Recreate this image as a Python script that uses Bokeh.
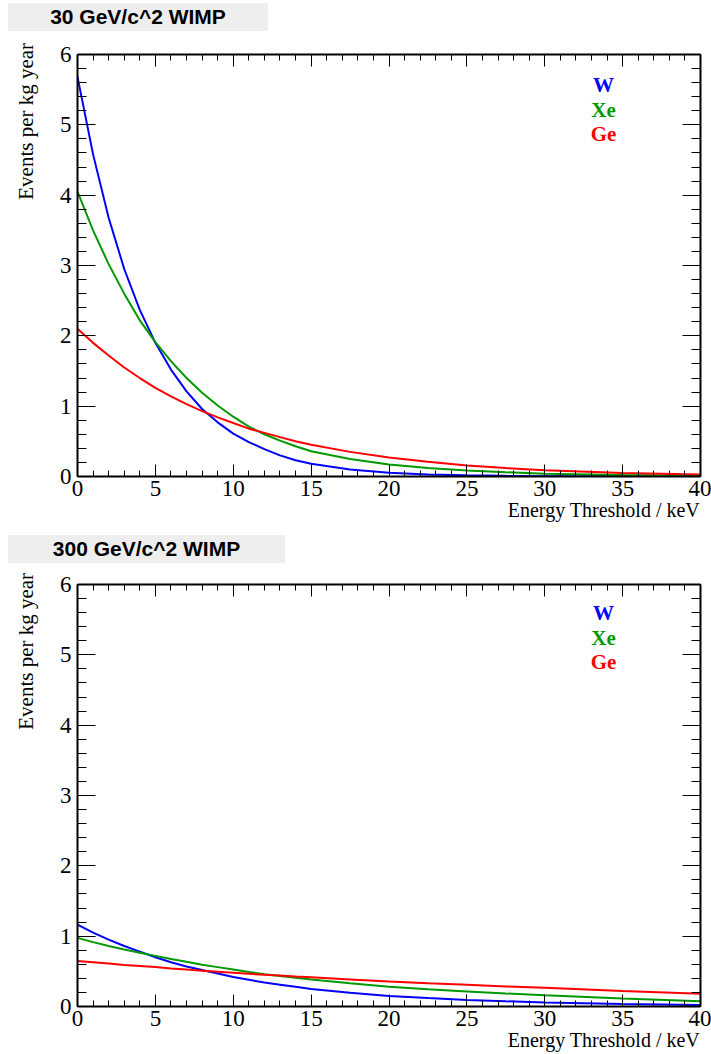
import json
from bokeh.plotting import figure
from bokeh.models import (Range1d, FixedTicker, LinearAxis, Label, Div,
                          CustomJSTickFormatter, ColumnDataSource)
from bokeh.layouts import column
from bokeh.embed import file_html
from bokeh.resources import INLINE

# ---------------- data ----------------
energy = [0, 1, 2, 3, 4, 5, 6, 7, 8, 9, 10, 11, 12, 13, 14, 15,
          17.5, 20, 22.5, 25, 27.5, 30, 35, 40]

w_30 = [5.68, 4.58, 3.68, 2.95, 2.37, 1.90, 1.52, 1.21, 0.96, 0.77, 0.61, 0.49,
        0.39, 0.30, 0.23, 0.18, 0.10, 0.055, 0.03, 0.016, 0.009, 0.005, 0.002, 0.001]
xe_30 = [4.05, 3.50, 3.02, 2.60, 2.22, 1.91, 1.64, 1.40, 1.19, 1.01, 0.85, 0.71,
         0.60, 0.51, 0.43, 0.36, 0.25, 0.17, 0.12, 0.085, 0.06, 0.04, 0.02, 0.01]
ge_30 = [2.10, 1.90, 1.72, 1.55, 1.40, 1.26, 1.14, 1.03, 0.93, 0.84, 0.76, 0.68,
         0.62, 0.56, 0.50, 0.45, 0.35, 0.27, 0.21, 0.155, 0.12, 0.09, 0.05, 0.03]

w_300 = [1.165, 1.05, 0.95, 0.86, 0.78, 0.70, 0.63, 0.57, 0.52, 0.47, 0.42, 0.38,
         0.34, 0.31, 0.28, 0.25, 0.195, 0.15, 0.12, 0.094, 0.074, 0.058, 0.035, 0.022]
xe_300 = [0.976, 0.915, 0.86, 0.81, 0.765, 0.72, 0.675, 0.635, 0.595, 0.56, 0.525, 0.49,
          0.46, 0.435, 0.41, 0.385, 0.33, 0.28, 0.245, 0.215, 0.185, 0.16, 0.115, 0.075]
ge_300 = [0.646, 0.63, 0.61, 0.59, 0.575, 0.56, 0.54, 0.525, 0.51, 0.495, 0.48, 0.465,
          0.45, 0.44, 0.425, 0.415, 0.385, 0.355, 0.33, 0.31, 0.285, 0.265, 0.22, 0.18]

series_names = ["W", "Xe", "Ge"]
series_colors = ["#0000ff", "#009900", "#ff0000"]

x_major = [0, 5, 10, 15, 20, 25, 30, 35, 40]
x_minor = list(range(0, 41))
y_major = [0, 1, 2, 3, 4, 5, 6]
y_minor = [i / 5 for i in range(0, 31)]

panel_titles = ["30 GeV/c^2 WIMP", "300 GeV/c^2 WIMP"]
x_title = "Energy Threshold / keV"
y_title = "Events per kg year"

SERIF = "Liberation Serif"

# where the (ROOT-style, end-aligned) axis titles are centred, in axis units
X_TITLE_CENTER = 33.8
Y_TITLE_CENTER = 5.05


def title_div(text, box_w, box_h, pad_top):
    return Div(text=text, width=box_w, height=box_h, margin=(pad_top, 0, 0, 8),
               styles={"background-color": "#eeeeee",
                       "font-family": "'Liberation Sans', Arial, sans-serif",
                       "font-weight": "bold", "font-size": "21px",
                       "color": "black", "text-align": "center",
                       "line-height": "%dpx" % box_h,
                       "overflow": "hidden"})


def style_axis(ax, major_in, minor_in):
    ax.axis_line_color = "black"
    ax.axis_line_width = 2
    ax.major_tick_in = major_in
    ax.major_tick_out = 0
    ax.minor_tick_in = minor_in
    ax.minor_tick_out = 0
    ax.major_tick_line_color = "black"
    ax.minor_tick_line_color = "black"
    ax.major_tick_line_width = 1
    ax.minor_tick_line_width = 1


def title_axis(center, text, size, standoff, orientation):
    ax = LinearAxis(ticker=FixedTicker(ticks=[center], minor_ticks=[]),
                    formatter=CustomJSTickFormatter(code="return %s" % json.dumps(text)),
                    axis_line_color=None, major_tick_line_color=None,
                    minor_tick_line_color=None, major_tick_in=0, major_tick_out=0,
                    minor_tick_in=0, minor_tick_out=0,
                    major_label_standoff=standoff,
                    major_label_text_font=SERIF, major_label_text_font_size=size,
                    major_label_text_color="black",
                    major_label_orientation=orientation)
    return ax


def panel(h, top, bottom, ys, fh):
    p = figure(width=711, height=h, x_range=Range1d(0, 40), y_range=Range1d(0, 6),
               toolbar_location=None, output_backend="svg",
               min_border_left=77, min_border_right=11,
               min_border_top=top, min_border_bottom=bottom)
    p.xgrid.visible = False
    p.ygrid.visible = False
    p.outline_line_color = None
    p.background_fill_color = "white"
    p.border_fill_color = "white"

    p.xaxis.ticker = FixedTicker(ticks=x_major, minor_ticks=x_minor)
    p.yaxis.ticker = FixedTicker(ticks=y_major, minor_ticks=y_minor)
    style_axis(p.xaxis[0], 12, 6)
    style_axis(p.yaxis[0], 18, 9)
    for ax in (p.xaxis[0], p.yaxis[0]):
        ax.major_label_text_font = SERIF
        ax.major_label_text_font_size = "23px"
        ax.major_label_text_color = "black"
    p.xaxis.major_label_standoff = 4
    p.yaxis.major_label_standoff = 6

    top_ax = LinearAxis(ticker=FixedTicker(ticks=x_major, minor_ticks=x_minor),
                        formatter=CustomJSTickFormatter(code="return ''"),
                        major_label_text_font_size="1px")
    style_axis(top_ax, 12, 6)
    right_ax = LinearAxis(ticker=FixedTicker(ticks=y_major, minor_ticks=y_minor),
                          formatter=CustomJSTickFormatter(code="return ''"),
                          major_label_text_font_size="1px")
    style_axis(right_ax, 18, 9)
    p.add_layout(top_ax, "above")
    p.add_layout(right_ax, "right")

    # axis titles, right-aligned ROOT style
    p.add_layout(title_axis(X_TITLE_CENTER, x_title, "20px", 0, "horizontal"), "below")
    p.add_layout(title_axis(Y_TITLE_CENTER, y_title, "21px", 18, "vertical"), "left")

    for name, vals, col in zip(series_names, ys, series_colors):
        src = ColumnDataSource(dict(x=energy, y=vals))
        p.line("x", "y", source=src, line_color=col, line_width=2)

    # legend texts
    leg_y = [fh - 30, fh - 55, fh - 79]
    for name, col, yy in zip(series_names, series_colors, leg_y):
        p.add_layout(Label(x=526, y=yy, x_units="screen", y_units="screen",
                           text=name, text_color=col, text_font=SERIF,
                           text_font_style="bold", text_font_size="21px",
                           text_align="center", text_baseline="middle"))
    return p


t1 = title_div(panel_titles[0], 260, 28, 3)
p1 = panel(504, 23, 59, [w_30, xe_30, ge_30], 422)
t2 = title_div(panel_titles[1], 277, 28, 0)
p2 = panel(490, 21, 45, [w_300, xe_300, ge_300], 424)

layout = column(t1, p1, t2, p2, spacing=0)

open("out.html", "w").write(file_html(layout, INLINE))
